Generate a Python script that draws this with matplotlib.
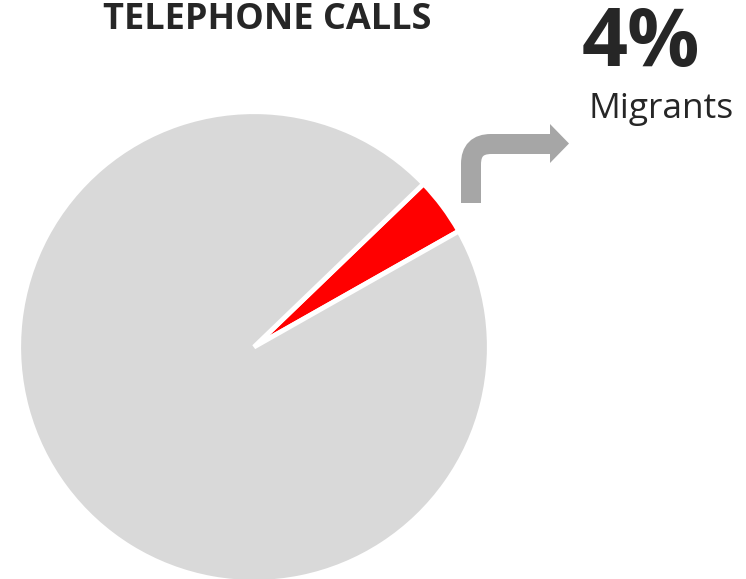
# telephone calls share chart
# one big pie, highlighted slice and a callout arrow

import matplotlib.pyplot as plt
from matplotlib.path import Path
from matplotlib.patches import PathPatch, Polygon

plt.rcParams['font.family'] = ['Open Sans', 'DejaVu Sans']

# data
groups = ['Migrants', 'Others']
shares = [4, 96]
colors = ['#ff0000', '#d9d9d9']

# figure in pixel units
W, H = 746, 579
fig = plt.figure(figsize=(W / 100, H / 100), dpi=100)

# pie axes: centre (254, 347) px, radius 233 px
cx, cy, r = 254, 347, 233
ax = fig.add_axes([(cx - r) / W, (H - cy - r) / H, 2 * r / W, 2 * r / H])
ax.pie(shares, colors=colors, startangle=29.5, counterclock=True, radius=1.01,
       wedgeprops={'edgecolor': 'white', 'linewidth': 3.5})
ax.set_xlim(-1, 1)
ax.set_ylim(-1, 1)
ax.axis('off')

# overlay axes for text and callout, y measured from the top
ov = fig.add_axes([0, 0, 1, 1], zorder=-1)
ov.set_xlim(0, W)
ov.set_ylim(H, 0)
ov.axis('off')

ov.text(267, 20, 'TELEPHONE CALLS', ha='center', va='center',
        fontsize=26, fontweight='bold', color='#262626')
ov.text(641, 45, f'{shares[0]}%', ha='center', va='center',
        fontsize=58, fontweight='bold', color='#262626')
ov.text(661, 109, groups[0], ha='center', va='center',
        fontsize=25.5, color='#262626')

# elbow arrow pointing to the label
grey = '#a6a6a6'
verts = [(471, 203), (471, 164), (471, 144), (491, 144), (551, 144)]
codes = [Path.MOVETO, Path.LINETO, Path.CURVE3, Path.CURVE3, Path.LINETO]
ov.add_patch(PathPatch(Path(verts, codes), facecolor='none', edgecolor=grey,
                       linewidth=14.4, capstyle='butt', joinstyle='miter'))
ov.add_patch(Polygon([(550, 124), (569, 143.5), (550, 163)], closed=True,
                     facecolor=grey, edgecolor='none'))

fig.savefig('out.png', dpi=100)
